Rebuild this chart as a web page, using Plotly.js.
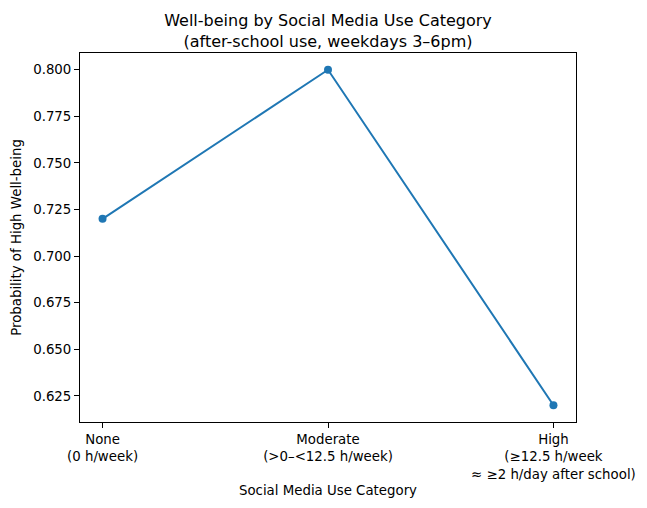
<!DOCTYPE html>
<html>
<head>
<meta charset="utf-8">
<script src="https://cdn.plot.ly/plotly-3.0.1.min.js"></script>
<style>html,body{margin:0;padding:0;background:#fff;}#chart{width:647px;height:508px;}</style>
</head>
<body>
<div id="chart"></div>
<script>
const categories = ["None<br>(0 h/week)", "Moderate<br>(>0–<12.5 h/week)", "High<br>(≥12.5 h/week<br>≈ ≥2 h/day after school)"];
const positions = [0, 1, 2];
const probabilities = [0.72, 0.80, 0.62];
const yTicks = [0.625, 0.650, 0.675, 0.700, 0.725, 0.750, 0.775, 0.800];
const yTickLabels = ["0.625", "0.650", "0.675", "0.700", "0.725", "0.750", "0.775", "0.800"];

const font = "DejaVu Sans, sans-serif";
const trace = {
  x: positions,
  y: probabilities,
  type: "scatter",
  mode: "lines+markers",
  line: {color: "#1f77b4", width: 2},
  marker: {color: "#1f77b4", size: 8},
  hoverinfo: "skip"
};

const layout = {
  width: 647, height: 508,
  margin: {l: 80, r: 71, t: 53, b: 86},
  paper_bgcolor: "#fff",
  plot_bgcolor: "#fff",
  font: {family: font, size: 13.33, color: "#000"},
  showlegend: false,
  title: {
    text: "Well-being by Social Media Use Category<br>(after-school use, weekdays 3–6pm)",
    font: {family: font, size: 16, color: "#000"},
    x: 0.5, xref: "paper", xanchor: "center",
    y: 1 - 26 / 508, yref: "container", yanchor: "top"
  },
  xaxis: {
    range: [-0.1, 2.1],
    tickvals: positions,
    ticktext: categories,
    ticks: "outside", ticklen: 5, tickwidth: 1, tickcolor: "#000",
    showline: true, mirror: true, linecolor: "#000", linewidth: 1,
    showgrid: false, zeroline: false,
    tickfont: {family: font, size: 13.33, color: "#000"},
    title: {text: "Social Media Use Category", font: {family: font, size: 13.33, color: "#000"}, standoff: 5}
  },
  yaxis: {
    range: [0.611, 0.809],
    tickvals: yTicks,
    ticktext: yTickLabels,
    ticks: "outside", ticklen: 5, tickwidth: 1, tickcolor: "#000",
    showline: true, mirror: true, linecolor: "#000", linewidth: 1,
    showgrid: false, zeroline: false,
    tickfont: {family: font, size: 13.33, color: "#000"},
    title: {text: "Probability of High Well-being", font: {family: font, size: 13.33, color: "#000"}, standoff: 8}
  }
};

Plotly.newPlot("chart", [trace], layout, {displayModeBar: false, staticPlot: true});
</script>
</body>
</html>
